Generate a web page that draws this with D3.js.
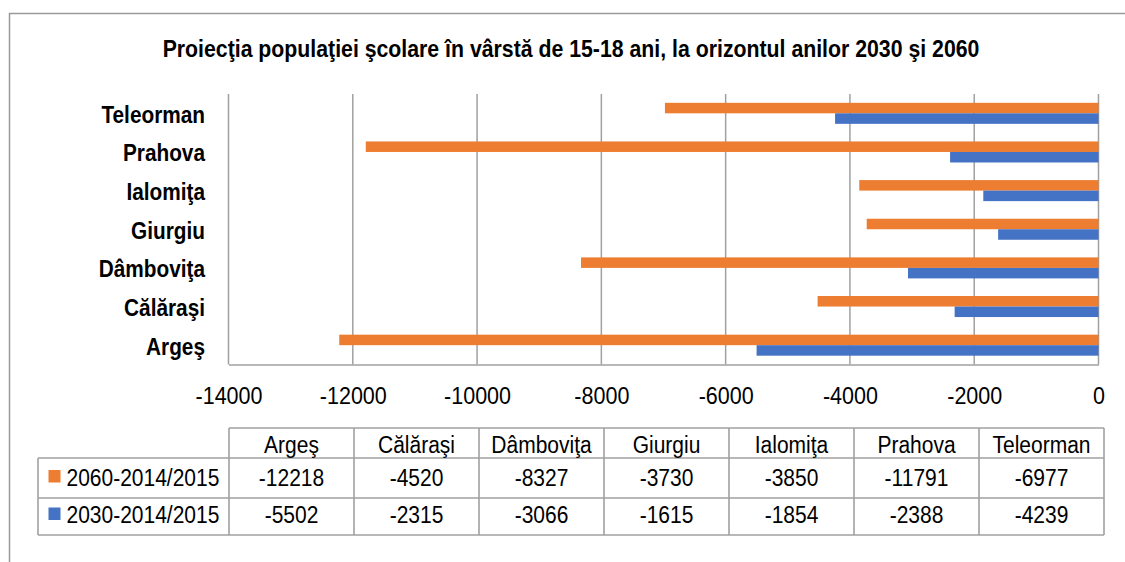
<!DOCTYPE html>
<html><head><meta charset="utf-8">
<script src="https://cdn.jsdelivr.net/npm/d3@7"></script>
<style>
html,body{margin:0;padding:0;background:#fff;}
svg{display:block;font-family:"Liberation Sans",Arial,sans-serif;}
</style></head>
<body>
<svg id="chart" width="1125" height="562"></svg>
<script>
const title = "Proiecţia populaţiei şcolare în vârstă de 15-18 ani, la orizontul anilor 2030 şi 2060";
const categories = ["Argeş","Călăraşi","Dâmboviţa","Giurgiu","Ialomiţa","Prahova","Teleorman"];
const seriesNames = ["2060-2014/2015","2030-2014/2015"];
const values2060 = [-12218,-4520,-8327,-3730,-3850,-11791,-6977];
const values2030 = [-5502,-2315,-3066,-1615,-1854,-2388,-4239];
const xTicks = [-14000,-12000,-10000,-8000,-6000,-4000,-2000,0];
const seriesColors = ["#ED7D31","#4472C4"];

const series = [values2060, values2030];
const svg = d3.select("#chart");
const SY = 1.13;
const gridColor = "#a0a0a0";

// outer frame
svg.append("rect").attr("x",9.5).attr("y",13.5).attr("width",1200).attr("height",600)
  .attr("fill","none").attr("stroke","#9a9a9a").attr("stroke-width",1.5);

function txt(parent, x, y, s, size, anchor, weight, sy){
  return parent.append("text")
    .attr("transform",`translate(${x},${y}) scale(1,${sy||SY})`)
    .attr("text-anchor",anchor||"middle")
    .attr("font-size",size).attr("font-weight",weight||"normal")
    .attr("fill","#000").text(s);
}

// title, fitted to reference width
const t = txt(svg, 571, 57, title, 21, "middle", "bold", 1.16);
const tw = t.node().getComputedTextLength();
t.attr("font-size", 21*817/tw);

// scales
const x = d3.scaleLinear().domain([-14000,0]).range([228.5,1098.5]);
const y = d3.scaleBand().domain(categories.slice().reverse()).range([94,364.5])
  .paddingInner(0.456).paddingOuter(0.228);
const ys = d3.scaleBand().domain([0,1]).range([0,y.bandwidth()]);

// gridlines
svg.append("g").selectAll("line").data(xTicks).join("line")
  .attr("x1",d=>x(d)).attr("x2",d=>x(d)).attr("y1",94).attr("y2",364.5)
  .attr("stroke",gridColor).attr("stroke-width",1.5);

// bars
series.forEach((vals,si)=>{
  svg.append("g").selectAll("rect").data(categories).join("rect")
    .attr("x",(d,i)=>x(Math.min(vals[i],0)))
    .attr("width",(d,i)=>Math.abs(x(vals[i])-x(0)))
    .attr("y",d=>y(d)+ys(si))
    .attr("height",ys.bandwidth())
    .attr("fill",seriesColors[si]);
});

// bottom axis
const axis = d3.axisBottom(x).tickValues(xTicks).tickSize(0).tickPadding(0).tickFormat(d3.format("d"));
const ag = svg.append("g").attr("transform","translate(0,364.5)").call(axis);
ag.select(".domain").attr("stroke",gridColor).attr("stroke-width",1.5);
ag.selectAll("text").attr("y",0).attr("dy",null)
  .attr("transform",`translate(0,39.5) scale(1,${SY})`)
  .attr("font-size",21.5).attr("font-family","\"Liberation Sans\",Arial,sans-serif")
  .attr("fill","#000").text(d=>d3.format("d")(d).replace("−","-"));

// category labels
categories.forEach(c=>{
  txt(svg, 205, y(c)+y.bandwidth()/2+9.5, c, 20.8, "end", "bold");
});

// data table
const tLeft = 38, tLabelRight = 229, tRight = 1104;
const colX = d3.scaleBand().domain(categories).range([tLabelRight,tRight]);
const rowsY = [428,458,498,535];
const tg = svg.append("g");
const tStroke = "#a0a0a0";
// horizontal lines
tg.append("line").attr("x1",tLabelRight).attr("x2",tRight).attr("y1",rowsY[0]).attr("y2",rowsY[0]);
[1,2,3].forEach(k=>tg.append("line").attr("x1",tLeft).attr("x2",tRight).attr("y1",rowsY[k]).attr("y2",rowsY[k]));
// vertical lines
tg.append("line").attr("x1",tLeft).attr("x2",tLeft).attr("y1",rowsY[1]).attr("y2",rowsY[3]);
categories.forEach(c=>tg.append("line").attr("x1",colX(c)).attr("x2",colX(c)).attr("y1",rowsY[0]).attr("y2",rowsY[3]));
tg.append("line").attr("x1",tRight).attr("x2",tRight).attr("y1",rowsY[0]).attr("y2",rowsY[3]);
tg.selectAll("line").attr("stroke",tStroke).attr("stroke-width",1.6);

// header
categories.forEach(c=>txt(svg, colX(c)+colX.bandwidth()/2, 452.5, c, 21));
// rows
const rowBase = [485.5, 523];
series.forEach((vals,si)=>{
  svg.append("rect").attr("x",48.5).attr("y",rowBase[si]-15.5).attr("width",12).attr("height",12.5)
    .attr("fill",seriesColors[si]);
  txt(svg, 66.5, rowBase[si], seriesNames[si], 21, "start");
  categories.forEach((c,i)=>txt(svg, colX(c)+colX.bandwidth()/2, rowBase[si], String(vals[i]), 21));
});
</script>
</body></html>
